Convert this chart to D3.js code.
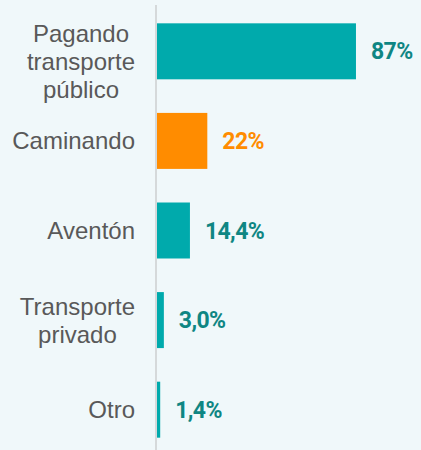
<!DOCTYPE html>
<html>
<head>
<meta charset="utf-8">
<script src="https://cdn.jsdelivr.net/npm/d3@7"></script>
<style>
  html, body { margin: 0; padding: 0; background: #f0f8fa; }
  svg { display: block; }
</style>
</head>
<body>
<div id="chart"></div>
<script>
var categories = ["Pagando\ntransporte\npúblico", "Caminando", "Aventón", "Transporte\nprivado", "Otro"];
var values = [87, 22, 14.4, 3.0, 1.4];
var valueLabels = ["87%", "22%", "14,4%", "3,0%", "1,4%"];
var highlight = "Caminando";

const w = 421;
const h = 450;
const axisX = 156;
const teal = "#00aaac";
const tealText = "#0f8683";
const orange = "#ff8c00";

const svg = d3.select("#chart")
  .append("svg")
  .attr("width", w)
  .attr("height", h);

svg.append("rect")
  .attr("width", w)
  .attr("height", h)
  .attr("fill", "#f0f8fa");

const xScale = d3.scaleLinear()
  .domain([0, 100])
  .range([axisX + 1, axisX + 1 + 228.7]);

const yScale = d3.scaleBand()
  .domain(categories)
  .range([5.4, 455.6])
  .paddingInner(0.375)
  .paddingOuter(0.2);

// vertical axis line
svg.append("line")
  .attr("x1", axisX).attr("x2", axisX)
  .attr("y1", 5).attr("y2", h)
  .attr("stroke", "#d5d9da")
  .attr("stroke-width", 2);

svg.selectAll("rect.bar")
  .data(values)
  .enter()
  .append("rect")
  .attr("class", "bar")
  .attr("x", xScale(0))
  .attr("y", (d, i) => yScale(categories[i]))
  .attr("width", d => xScale(d) - xScale(0))
  .attr("height", yScale.bandwidth())
  .attr("fill", (d, i) => categories[i] == highlight ? orange : teal);

svg.selectAll("text.val")
  .data(values)
  .enter()
  .append("text")
  .attr("class", "val")
  .attr("x", d => xScale(d) + 15)
  .attr("y", (d, i) => yScale(categories[i]) + yScale.bandwidth() / 2 + 8)
  .attr("font-family", "Roboto, sans-serif")
  .attr("font-weight", "bold")
  .attr("font-size", "23px")
  .attr("letter-spacing", "-0.6px")
  .attr("fill", (d, i) => categories[i] == highlight ? orange : tealText)
  .text((d, i) => valueLabels[i]);

// category labels, lines centred on each other, block right aligned to 135
const labelRight = 135;
const lineH = 28;
const capH = 17;
categories.forEach(function(c) {
  const lines = c.split("\n");
  const g = svg.append("g");
  const texts = lines.map(function(l) {
    return g.append("text")
      .attr("font-family", "'Liberation Sans', Arial, sans-serif")
      .attr("font-size", "24px")
      .attr("fill", "#595959")
      .attr("text-anchor", "middle")
      .text(l);
  });
  const maxW = d3.max(texts, t => t.node().getComputedTextLength());
  const cx = labelRight - maxW / 2;
  const mid = yScale(c) + yScale.bandwidth() / 2;
  let top = mid - ((lines.length - 1) * lineH + capH) / 2;
  top = Math.max(top, yScale(c) + 2);
  texts.forEach(function(t, i) {
    t.attr("x", cx).attr("y", top + capH + i * lineH);
  });
});
</script>
</body>
</html>
